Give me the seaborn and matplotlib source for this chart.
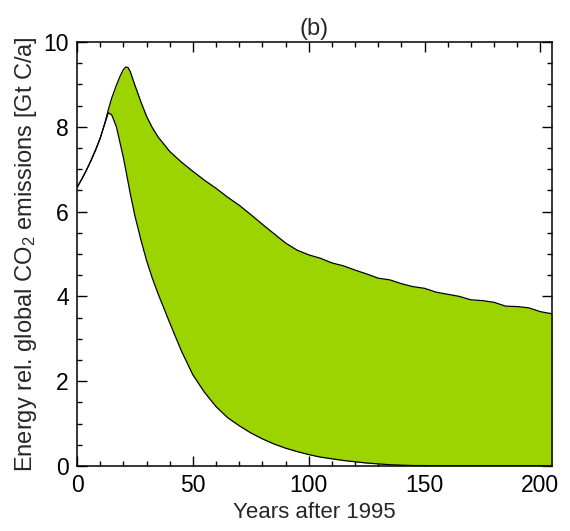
import numpy as np
import pandas as pd
import matplotlib
matplotlib.use("Agg")
import matplotlib.pyplot as plt
import seaborn as sns
from matplotlib.ticker import MultipleLocator

# ---- data ----
years = [0, 2, 4, 6, 8, 10, 12, 13.5, 15, 17, 18.5, 20, 21, 22, 23, 24, 25, 27.5,
         30, 32.5, 35, 40, 45, 50, 55, 60, 65, 70, 75, 80, 85, 90, 95, 100,
         105, 110, 115, 120, 125, 130, 135, 140, 145, 150, 155, 160, 165, 170,
         175, 180, 185, 190, 195, 200, 205]

upper = [6.57, 6.76, 6.97, 7.20, 7.45, 7.73, 8.08, 8.40, 8.68, 8.98, 9.18, 9.35,
         9.41, 9.40, 9.30, 9.14, 8.98, 8.60, 8.25, 7.98, 7.76, 7.42, 7.17, 6.95,
         6.74, 6.55, 6.34, 6.15, 5.93, 5.70, 5.48, 5.26, 5.09, 4.98, 4.90, 4.79,
         4.72, 4.62, 4.53, 4.43, 4.39, 4.30, 4.23, 4.19, 4.10, 4.05, 4.00, 3.92,
         3.90, 3.86, 3.77, 3.76, 3.73, 3.64, 3.59]

lower = [6.57, 6.76, 6.97, 7.20, 7.45, 7.73, 8.08, 8.33, 8.28, 8.00, 7.64, 7.28,
         7.00, 6.71, 6.42, 6.16, 5.90, 5.35, 4.85, 4.43, 4.06, 3.38, 2.72, 2.15,
         1.74, 1.40, 1.14, 0.95, 0.78, 0.64, 0.52, 0.42, 0.34, 0.27, 0.21, 0.17,
         0.13, 0.10, 0.07, 0.05, 0.03, 0.02, 0.01, 0.01, 0.0, 0.0, 0.0, 0.0, 0.0,
         0.0, 0.0, 0.0, 0.0, 0.0, 0.0]

FILL = "#9bd400"
# --------------------------------------

df = pd.DataFrame({"year": years, "upper": upper, "lower": lower})

sns.set_theme(style="ticks")
plt.rcParams["font.family"] = ["Liberation Sans", "DejaVu Sans"]
plt.rcParams["mathtext.fontset"] = "custom"
plt.rcParams["mathtext.rm"] = "Liberation Sans"
plt.rcParams["mathtext.default"] = "regular"

fig = plt.figure(figsize=(5.7, 5.31), dpi=100)
ax = fig.add_axes([77 / 570, 1 - 466 / 531, 475 / 570, 424 / 531])

ax.fill_between(df["year"], df["lower"], df["upper"], color=FILL, lw=0)
sns.lineplot(data=df, x="year", y="upper", ax=ax, color="black", lw=0.9)
sns.lineplot(data=df, x="year", y="lower", ax=ax, color="black", lw=0.9)

ax.set_xlim(0, 205)
ax.set_ylim(0, 10)
ax.xaxis.set_major_locator(MultipleLocator(50))
ax.xaxis.set_minor_locator(MultipleLocator(10))
ax.yaxis.set_major_locator(MultipleLocator(2))
ax.yaxis.set_minor_locator(MultipleLocator(0.5))

ax.tick_params(which="both", direction="in", top=True, right=True,
               colors="black", width=1.0)
ax.tick_params(which="major", length=7, labelsize=16.5, pad=6)
ax.tick_params(which="minor", length=3.5)
for s in ax.spines.values():
    s.set_linewidth(1.1)
    s.set_color("black")

ax.set_xlabel("Years after 1995", fontsize=16, labelpad=3)
ax.set_ylabel("Energy rel. global CO$_2$ emissions [Gt C/a]", fontsize=17,
              labelpad=3)
ax.set_title("(b)", fontsize=17, pad=5)

fig.savefig("out.png", dpi=100)
